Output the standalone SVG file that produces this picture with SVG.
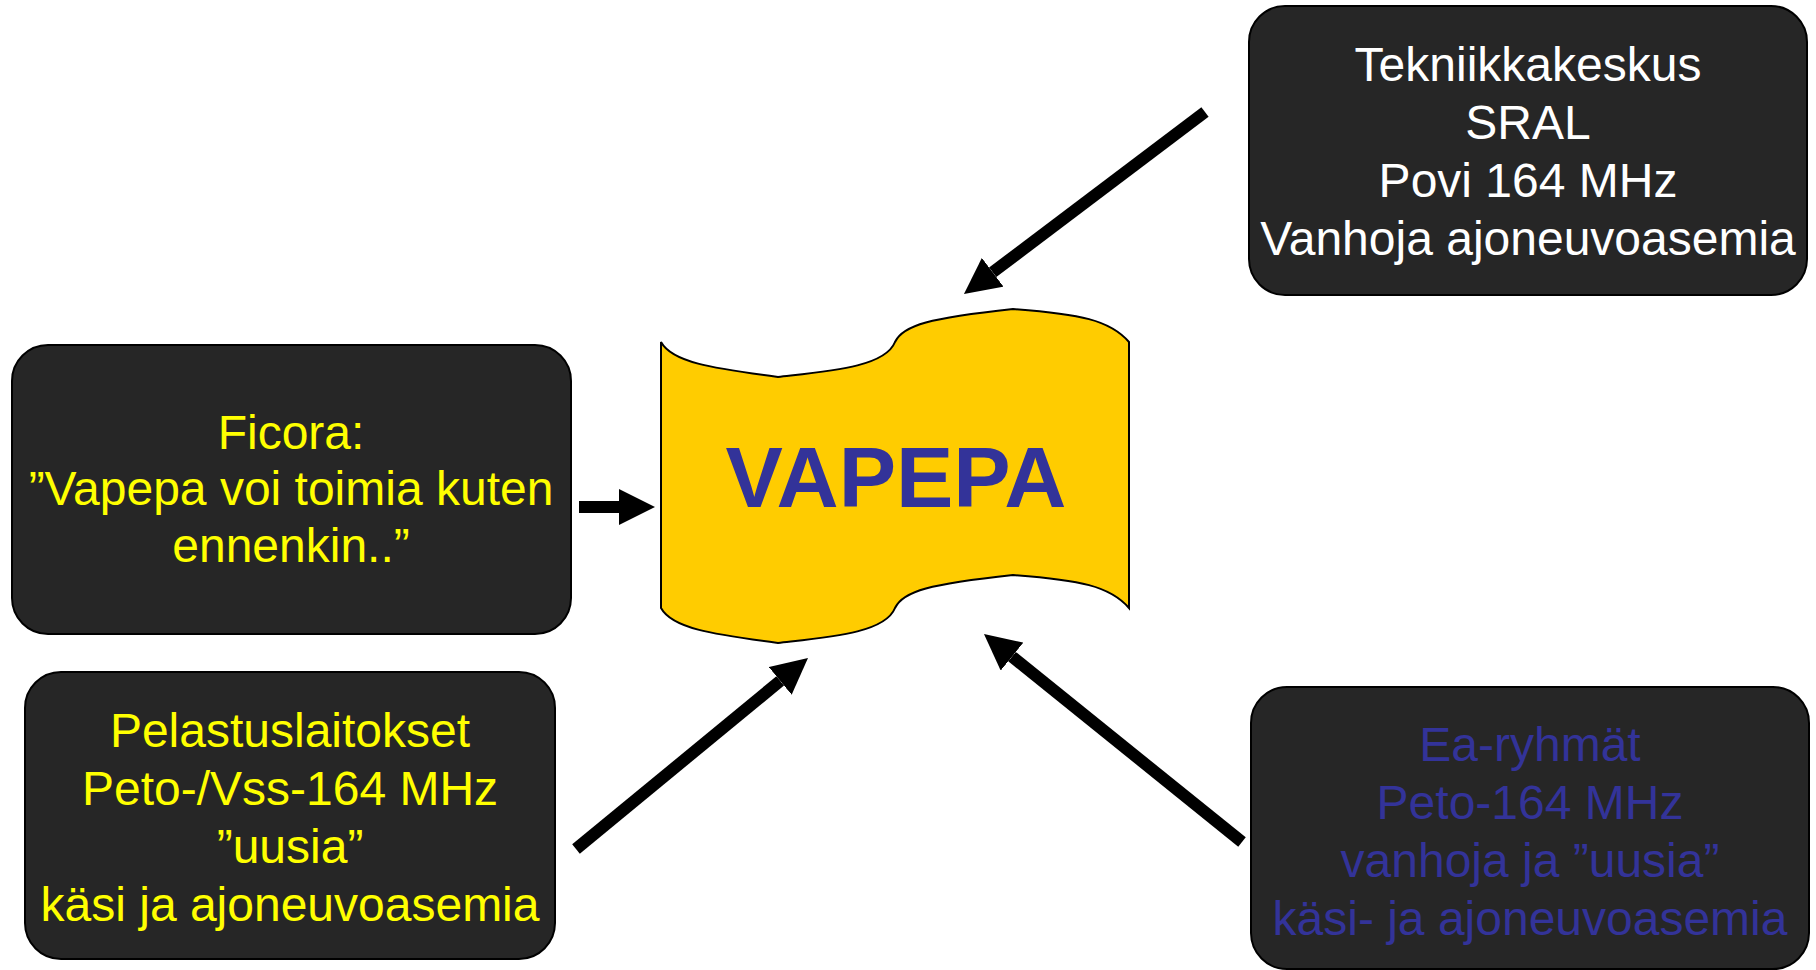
<svg xmlns="http://www.w3.org/2000/svg" width="1816" height="970" viewBox="0 0 1816 970">
  <defs>
    <marker id="ah" viewBox="0 0 3 3" refX="0" refY="1.5" markerWidth="3" markerHeight="3" orient="auto" markerUnits="strokeWidth">
      <path d="M0,0 L3,1.5 L0,3 z" fill="#000"/>
    </marker>
    <style>
      .box { fill: #262626; stroke: #000; stroke-width: 2; }
      .t { font-family: "Liberation Sans", Arial, sans-serif; font-size: 48px; text-anchor: middle; }
      .white { fill: #ffffff; }
      .yellow { fill: #ffff00; }
      .blue { fill: #333399; }
      .conn { stroke: #000; stroke-width: 12; fill: none; marker-end: url(#ah); }
    </style>
  </defs>
  <rect width="1816" height="970" fill="#ffffff"/>

  <g id="vapepa">
    <path d="M661,342 C672,362 710,368 778,377 C830,371 885,367 895,342 C903,325 930,318 1013,309 C1080,314 1110,320 1129,342 L1129,608 C1110,586 1080,580 1013,575 C930,584 903,591 895,608 C885,633 830,637 778,643 C710,634 672,628 661,608 Z" fill="#ffcc00" stroke="#000" stroke-width="2"/>
    <text x="896" y="507" font-family="Liberation Sans, Arial, sans-serif" font-size="86" font-weight="bold" text-anchor="middle" fill="#333399">VAPEPA</text>
  </g>

  <g id="tekniikkakeskus">
    <rect class="box" x="1249" y="6" width="558" height="289" rx="36" ry="36"/>
    <text class="t white" x="1528" y="81">Tekniikkakeskus</text>
    <text class="t white" x="1528" y="139">SRAL</text>
    <text class="t white" x="1528" y="197">Povi 164 MHz</text>
    <text class="t white" x="1528" y="255">Vanhoja ajoneuvoasemia</text>
  </g>

  <g id="ficora">
    <rect class="box" x="12" y="345" width="559" height="289" rx="36" ry="36"/>
    <text class="t yellow" x="291" y="449">Ficora:</text>
    <text class="t yellow" x="291" y="505">”Vapepa voi toimia kuten</text>
    <text class="t yellow" x="291" y="562">ennenkin..”</text>
  </g>

  <g id="pelastuslaitokset">
    <rect class="box" x="25" y="672" width="530" height="287" rx="36" ry="36"/>
    <text class="t yellow" x="290" y="747">Pelastuslaitokset</text>
    <text class="t yellow" x="290" y="805">Peto-/Vss-164 MHz</text>
    <text class="t yellow" x="290" y="863">”uusia”</text>
    <text class="t yellow" x="290" y="921">käsi ja ajoneuvoasemia</text>
  </g>

  <g id="ea-ryhmat">
    <rect class="box" x="1251" y="687" width="558" height="282" rx="36" ry="36"/>
    <text class="t blue" x="1530" y="761">Ea-ryhmät</text>
    <text class="t blue" x="1530" y="819">Peto-164 MHz</text>
    <text class="t blue" x="1530" y="877">vanhoja ja ”uusia”</text>
    <text class="t blue" x="1530" y="935">käsi- ja ajoneuvoasemia</text>
  </g>

  <g id="connectors">
    <line class="conn" x1="1205" y1="112" x2="992.7" y2="272.3"/>
    <line class="conn" x1="579" y1="507" x2="619" y2="507"/>
    <line class="conn" x1="576" y1="849" x2="780.2" y2="680.9"/>
    <line class="conn" x1="1242" y1="842" x2="1012" y2="656.6"/>
  </g>
</svg>
